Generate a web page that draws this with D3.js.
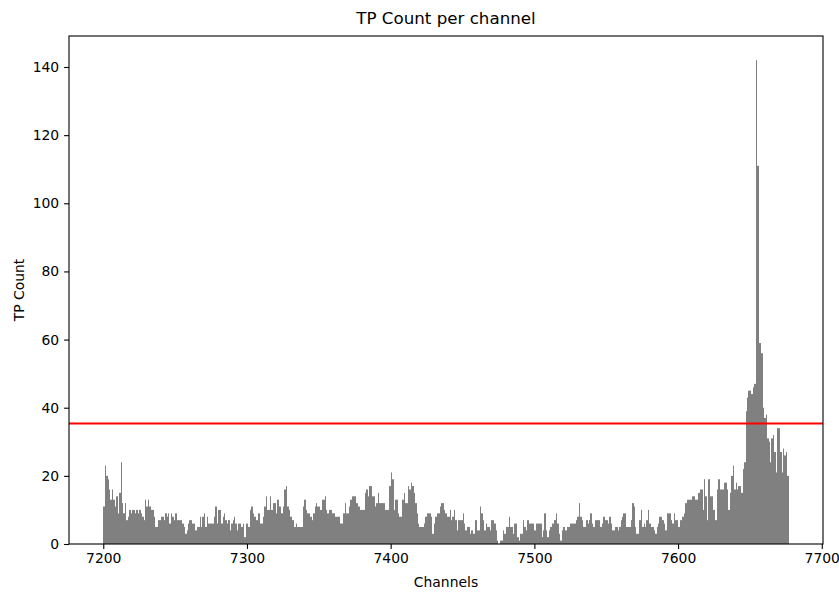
<!DOCTYPE html>
<html>
<head>
<meta charset="utf-8">
<script src="https://cdn.jsdelivr.net/npm/d3@7"></script>
<style>
  body { margin: 0; background: #fff; }
  svg { display: block; font-family: "DejaVu Sans", sans-serif; }
  .axis path { display: none; }
  .axis line { stroke: #000; stroke-width: 1.1; }
  .axis text { font-size: 13.9px; fill: #000; font-family: "DejaVu Sans", sans-serif; }
</style>
</head>
<body>
<svg width="839" height="592"></svg>
<script>
// TP count for every channel, starting at channel 7200
var firstChannel = 7200;
var counts = [
  11, 23, 20, 19, 16, 13, 16, 13, 11, 14,
  9, 15, 24, 12, 9, 12, 7, 8, 10, 9,
  10, 10, 9, 10, 9, 10, 9, 8, 7, 13,
  11, 13, 11, 10, 10, 8, 5, 5, 7, 7,
  8, 8, 7, 9, 8, 9, 6, 9, 8, 7,
  9, 7, 7, 7, 7, 6, 5, 3, 4, 6,
  7, 7, 6, 6, 4, 5, 5, 8, 5, 8,
  9, 5, 8, 6, 6, 6, 6, 8, 11, 6,
  10, 10, 6, 8, 9, 7, 6, 7, 4, 6,
  7, 8, 6, 4, 6, 6, 5, 6, 2, 6,
  6, 5, 10, 11, 9, 8, 7, 7, 9, 6,
  6, 8, 11, 14, 10, 10, 14, 10, 12, 12,
  9, 13, 11, 11, 9, 11, 16, 17, 11, 10,
  8, 7, 7, 5, 6, 5, 5, 5, 5, 11,
  13, 10, 9, 9, 8, 7, 9, 11, 12, 11,
  11, 10, 13, 13, 14, 10, 9, 10, 10, 9,
  9, 8, 8, 8, 8, 6, 6, 9, 12, 9,
  9, 11, 13, 14, 14, 14, 12, 11, 11, 10,
  10, 10, 15, 16, 14, 17, 17, 14, 14, 11,
  12, 15, 12, 12, 12, 12, 10, 10, 10, 17,
  21, 19, 10, 13, 13, 9, 8, 8, 13, 15,
  12, 12, 17, 16, 18, 17, 15, 12, 9, 6,
  5, 5, 5, 6, 8, 9, 9, 9, 8, 3,
  6, 8, 9, 9, 11, 12, 12, 10, 9, 8,
  8, 10, 7, 8, 10, 7, 4, 7, 7, 7,
  9, 6, 4, 5, 5, 3, 4, 3, 3, 7,
  4, 4, 11, 9, 7, 4, 6, 5, 5, 4,
  7, 7, 6, 4, 1, 0, 1, 1, 4, 3,
  5, 5, 8, 5, 5, 3, 6, 6, 2, 1,
  3, 3, 7, 5, 4, 7, 6, 6, 6, 6,
  4, 6, 6, 6, 6, 2, 4, 9, 4, 2,
  4, 5, 6, 6, 7, 9, 6, 3, 1, 4,
  5, 4, 4, 5, 5, 6, 6, 6, 6, 7,
  8, 12, 8, 7, 5, 5, 7, 6, 7, 9,
  6, 5, 7, 7, 7, 7, 5, 6, 8, 7,
  7, 6, 8, 6, 4, 4, 5, 5, 4, 5,
  7, 8, 9, 9, 5, 5, 5, 7, 12, 11,
  5, 3, 3, 7, 10, 5, 6, 5, 7, 10,
  6, 5, 5, 4, 3, 5, 6, 8, 8, 7,
  6, 4, 9, 9, 9, 7, 6, 9, 7, 7,
  5, 7, 7, 8, 9, 12, 13, 13, 13, 13,
  14, 14, 13, 13, 15, 16, 16, 10, 19, 14,
  7, 19, 14, 14, 10, 10, 7, 16, 19, 16,
  16, 16, 18, 18, 16, 10, 15, 20, 23, 16,
  18, 16, 17, 17, 15, 22, 24, 39, 43, 45,
  45, 44, 46, 47, 142, 111, 59, 59, 56, 40,
  37, 38, 31, 30, 24, 31, 32, 27, 21, 34,
  34, 27, 21, 28, 26, 27, 20
];
var threshold = 35.4;
var xTicks = [7200, 7300, 7400, 7500, 7600, 7700];
var yTicks = [0, 20, 40, 60, 80, 100, 120, 140];

var svg = d3.select("svg"),
    margin = {top: 36, right: 16, bottom: 48, left: 69},
    width = +svg.attr("width") - margin.left - margin.right,
    height = +svg.attr("height") - margin.top - margin.bottom,
    g = svg.append("g").attr("transform", "translate(" + margin.left + "," + margin.top + ")");

var lastEdge = firstChannel + counts.length,
    pad = (lastEdge - firstChannel) * 0.05;

var x = d3.scaleLinear()
    .domain([firstChannel - pad, lastEdge + pad])
    .range([0, width]);
var y = d3.scaleLinear()
    .domain([0, d3.max(counts) * 1.05])
    .range([height, 0]);

// bars, one bin per channel; edges snapped to whole pixels so no seams show
g.selectAll(".bar")
    .data(counts)
    .enter().append("rect")
    .attr("class", "bar")
    .attr("x", function (d, i) { return Math.round(x(firstChannel + i)); })
    .attr("width", function (d, i) {
        return Math.round(x(firstChannel + i + 1)) - Math.round(x(firstChannel + i));
    })
    .attr("y", function (d) { return y(d); })
    .attr("height", function (d) { return y(0) - y(d); })
    .attr("fill", "#808080");

// threshold line
g.append("line")
    .attr("x1", 0)
    .attr("x2", width)
    .attr("y1", y(threshold))
    .attr("y2", y(threshold))
    .attr("stroke", "#ff0000")
    .attr("stroke-width", 2);

g.append("g")
    .attr("class", "axis")
    .attr("transform", "translate(0," + height + ")")
    .call(d3.axisBottom(x).tickValues(xTicks).tickFormat(d3.format("d"))
        .tickSize(4.9).tickSizeOuter(0).tickPadding(4.5));

g.append("g")
    .attr("class", "axis")
    .call(d3.axisLeft(y).tickValues(yTicks).tickFormat(d3.format("d"))
        .tickSize(4.9).tickSizeOuter(0).tickPadding(4.9));

// frame
g.append("rect")
    .attr("width", width)
    .attr("height", height)
    .attr("fill", "none")
    .attr("stroke", "#000")
    .attr("stroke-width", 1.1);

svg.append("text")
    .attr("x", margin.left + width / 2)
    .attr("y", 24)
    .attr("text-anchor", "middle")
    .style("font-size", "16.7px")
    .text("TP Count per channel");

svg.append("text")
    .attr("x", margin.left + width / 2)
    .attr("y", 587)
    .attr("text-anchor", "middle")
    .style("font-size", "13.9px")
    .text("Channels");

svg.append("text")
    .attr("transform", "translate(24," + (margin.top + height / 2) + ") rotate(-90)")
    .attr("text-anchor", "middle")
    .style("font-size", "13.9px")
    .text("TP Count");
</script>
</body>
</html>
